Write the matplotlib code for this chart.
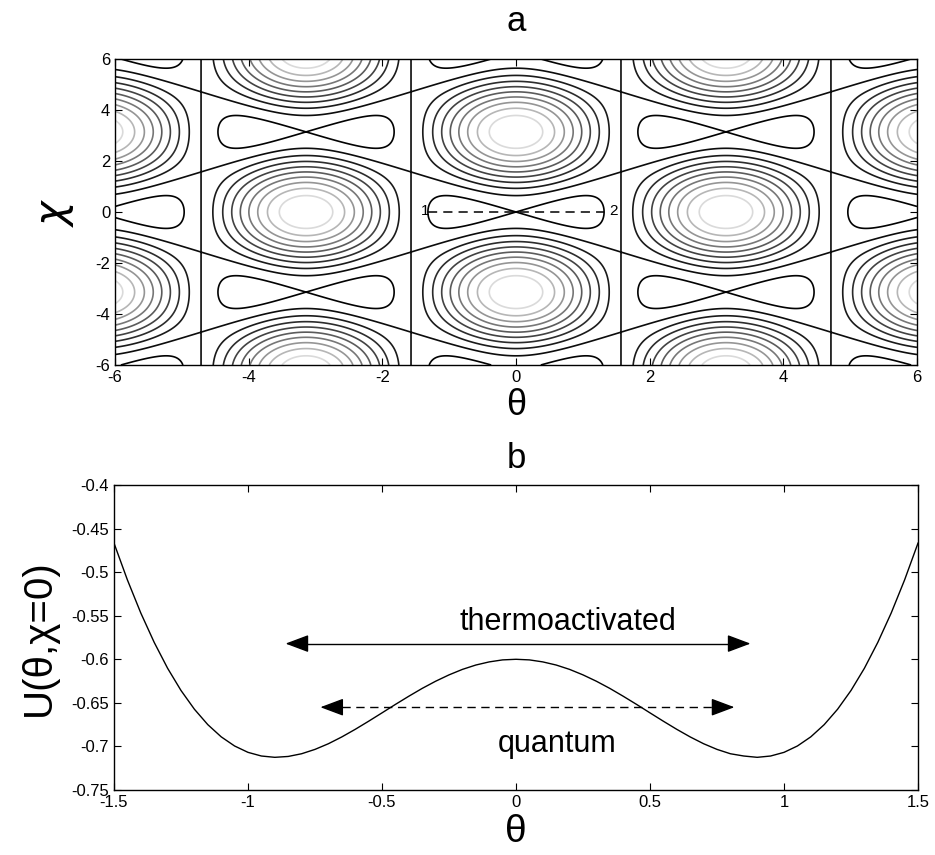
import numpy as np
import matplotlib
matplotlib.use("Agg")
import matplotlib.pyplot as plt
from matplotlib.colors import PowerNorm

plt.rcParams['font.family'] = ['Liberation Sans', 'DejaVu Sans']
plt.rcParams['axes.unicode_minus'] = False

# ---- panel a: potential U(theta, chi) = A*cos^2(theta) - B*cos(theta)*cos(chi) + C
A_coef = 0.8
B_coef = 1.0
C_coef = -0.4
contour_levels = [-0.6, -0.4, -0.2, 0.0, 0.2, 0.4, 0.6, 0.8, 1.0, 1.2]
a_xticks = [-6, -4, -2, 0, 2, 4, 6]
a_yticks = [-6, -4, -2, 0, 2, 4, 6]
path_theta = [-1.318, 1.318]     # dashed path 1 -> 2 at chi = 0
path_chi = [0.0, 0.0]
path_labels = ['1', '2']
path_label_theta = [-1.42, 1.40]

# ---- panel b: U(theta, chi=0)
b_theta = [-1.50, -1.45, -1.40, -1.35, -1.30, -1.25, -1.20, -1.15, -1.10, -1.05,
           -1.00, -0.95, -0.90, -0.85, -0.80, -0.75, -0.70, -0.65, -0.60, -0.55,
           -0.50, -0.45, -0.40, -0.35, -0.30, -0.25, -0.20, -0.15, -0.10, -0.05,
           0.00, 0.05, 0.10, 0.15, 0.20, 0.25, 0.30, 0.35, 0.40, 0.45,
           0.50, 0.55, 0.60, 0.65, 0.70, 0.75, 0.80, 0.85, 0.90, 0.95,
           1.00, 1.05, 1.10, 1.15, 1.20, 1.25, 1.30, 1.35, 1.40, 1.45, 1.50]
b_U = [-0.4667, -0.5089, -0.5469, -0.5806, -0.6103, -0.6358, -0.6573, -0.6750, -0.6890, -0.6995,
       -0.7068, -0.7110, -0.7125, -0.7115, -0.7084, -0.7034, -0.6969, -0.6891, -0.6804, -0.6711,
       -0.6615, -0.6518, -0.6424, -0.6334, -0.6252, -0.6179, -0.6116, -0.6066, -0.6030, -0.6007,
       -0.6000, -0.6007, -0.6030, -0.6066, -0.6116, -0.6179, -0.6252, -0.6334, -0.6424, -0.6518,
       -0.6615, -0.6711, -0.6804, -0.6891, -0.6969, -0.7034, -0.7084, -0.7110, -0.7125, -0.7110,
       -0.7068, -0.6995, -0.6890, -0.6750, -0.6573, -0.6358, -0.6103, -0.5806, -0.5469, -0.5089, -0.4667]
b_xticks = [-1.5, -1, -0.5, 0, 0.5, 1, 1.5]
b_xticklabels = ['-1.5', '-1', '-0.5', '0', '0.5', '1', '1.5']
b_yticks = [-0.75, -0.7, -0.65, -0.6, -0.55, -0.5, -0.45, -0.4]
b_yticklabels = ['-0.75', '-0.7', '-0.65', '-0.6', '-0.55', '-0.5', '-0.45', '-0.4']
thermo_arrow = [-0.86, 0.875, -0.582]    # x_start, x_end, y
quantum_arrow = [-0.73, 0.815, -0.655]
thermo_text = (0.195, -0.557, 'thermoactivated')
quantum_text = (0.155, -0.697, 'quantum')

fig = plt.figure(figsize=(9.35, 8.55), dpi=100)

# ------------------ panel a ------------------
axa = fig.add_axes([115 / 935, 1 - 365 / 855, 802 / 935, 306 / 855])
th = np.linspace(-6, 6, 1201)
ch = np.linspace(-6, 6, 1201)
TH, CH = np.meshgrid(th, ch)
U = A_coef * np.cos(TH) ** 2 - B_coef * np.cos(TH) * np.cos(CH) + C_coef
norm = PowerNorm(gamma=1.6, vmin=U.min(), vmax=U.max())
axa.contour(TH, CH, U, levels=contour_levels, cmap='gray', norm=norm, linewidths=1.2)
axa.plot(path_theta, path_chi, color='k', linestyle=(0, (6, 4)), linewidth=1.1)
for lab, tx in zip(path_labels, path_label_theta):
    axa.text(tx, 0.05, lab, fontsize=11, ha='left', va='center')
axa.set_xlim(-6, 6)
axa.set_ylim(-6, 6)
axa.set_xticks(a_xticks)
axa.set_yticks(a_yticks)
axa.tick_params(direction='in', top=True, right=True, length=5, width=0.8, labelsize=12)
axa.set_xlabel('θ', fontsize=26, labelpad=2)
axa.set_ylabel(r'$\chi$', fontsize=30, labelpad=14, rotation=90)
axa.set_title('a', fontsize=25, pad=20)
for s in axa.spines.values():
    s.set_linewidth(1.0)

# ------------------ panel b ------------------
axb = fig.add_axes([114 / 935, 1 - 790 / 855, 804 / 935, 305 / 855])
axb.plot(b_theta, b_U, color='k', linewidth=1.0)
hs = dict(arrowstyle='-|>,head_length=0.8,head_width=0.3', color='k', lw=1.0,
          shrinkA=0, shrinkB=0, mutation_scale=18)
# solid arrow (thermoactivated)
x0, x1, y = thermo_arrow
axb.plot([x0 + 0.03, x1 - 0.03], [y, y], color='k', linewidth=1.0)
axb.annotate('', xy=(x0, y), xytext=(x0 + 0.06, y), arrowprops=hs)
axb.annotate('', xy=(x1, y), xytext=(x1 - 0.06, y), arrowprops=hs)
# dashed arrow (quantum)
x0, x1, y = quantum_arrow
axb.plot([x0 + 0.03, x1 - 0.03], [y, y], color='k', linewidth=1.0, linestyle=(0, (6, 4)))
axb.annotate('', xy=(x0, y), xytext=(x0 + 0.06, y), arrowprops=hs)
axb.annotate('', xy=(x1, y), xytext=(x1 - 0.06, y), arrowprops=hs)
axb.text(thermo_text[0], thermo_text[1], thermo_text[2], fontsize=22, ha='center', va='center')
axb.text(quantum_text[0], quantum_text[1], quantum_text[2], fontsize=22, ha='center', va='center')
axb.set_xlim(-1.5, 1.5)
axb.set_ylim(-0.75, -0.4)
axb.set_xticks(b_xticks)
axb.set_xticklabels(b_xticklabels)
axb.set_yticks(b_yticks)
axb.set_yticklabels(b_yticklabels)
axb.tick_params(direction='in', top=True, right=True, length=5, width=0.8, labelsize=12)
axb.set_xlabel('θ', fontsize=28, labelpad=3)
axb.set_ylabel('U(θ,χ=0)', fontsize=29, labelpad=10)
axb.set_title('b', fontsize=25, pad=12)
for s in axb.spines.values():
    s.set_linewidth(1.0)

fig.savefig('out.png', dpi=100)
